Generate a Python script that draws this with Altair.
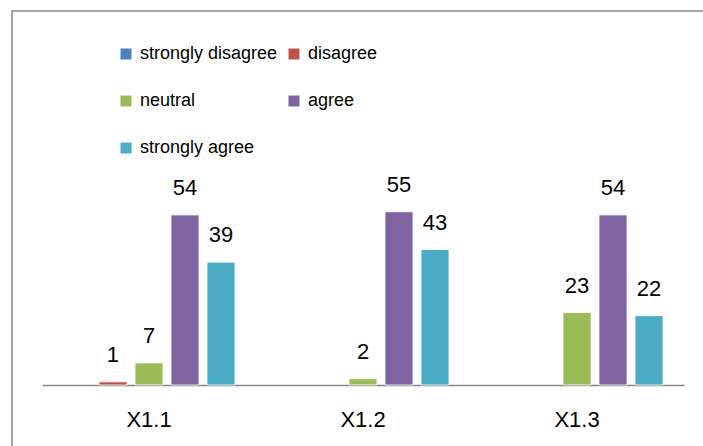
import altair as alt
import pandas as pd

categories = ["X1.1", "X1.2", "X1.3"]
series = ["strongly disagree", "disagree", "neutral", "agree", "strongly agree"]
colors = ["#4F81BD", "#C0504D", "#9BBB59", "#8064A2", "#4BACC6"]
strongly_disagree = [0, 0, 0]
disagree = [1, 0, 0]
neutral = [7, 2, 23]
agree = [54, 55, 54]
strongly_agree = [39, 43, 22]

vals = [strongly_disagree, disagree, neutral, agree, strongly_agree]
rows = []
for s, v in zip(series, vals):
    for c, x in zip(categories, v):
        rows.append({"cat": c, "series": s, "value": x})
df = pd.DataFrame(rows)

FONT = "Liberation Sans"

x = alt.X("cat:N", sort=categories, title=None,
          scale=alt.Scale(domain=categories, paddingInner=0, paddingOuter=0),
          axis=alt.Axis(labelAngle=0, labelFontSize=22, labelFont=FONT, labelColor="#000000",
                        ticks=False, domainColor="#898989", domainWidth=1.5, labelPadding=24))
xo = alt.XOffset("series:N",
                 scale=alt.Scale(domain=series, paddingInner=0.222, paddingOuter=0.583))
y = alt.Y("value:Q", scale=alt.Scale(domain=[0, 60]), axis=None)

bars = alt.Chart(df).transform_filter("datum.value > 0").mark_bar(
    stroke="#ffffff", strokeWidth=0.8
).encode(
    x=x, xOffset=xo, y=y,
    color=alt.Color("series:N",
                    scale=alt.Scale(domain=series, range=colors),
                    legend=alt.Legend(title=None, orient="none", legendX=75, legendY=-151,
                                      direction="horizontal",
                                      columns=2, columnPadding=7, rowPadding=29,
                                      symbolType="square", symbolSize=121, symbolStrokeWidth=0,
                                      labelFontSize=18, labelFont=FONT, labelColor="#000000",
                                      labelOffset=5, labelLimit=300)),
)

labels = alt.Chart(df).transform_filter("datum.value > 0").mark_text(
    fontSize=22, font=FONT, color="#000000", baseline="middle", dy=-27
).encode(x=x, xOffset=xo, y=y, text=alt.Text("value:Q"))

border = alt.Chart(pd.DataFrame({"a": [0]})).mark_rect(
    fill=None, stroke="#898989", strokeWidth=1.5
).encode(x=alt.value(-30), x2=alt.value(720), y=alt.value(-185), y2=alt.value(320))

chart = alt.layer(border, bars, labels).properties(
    width=642, height=189,
    padding={"left": 42, "top": 196, "right": 19, "bottom": 61},
    autosize=alt.AutoSizeParams(type="none"),
    background="#ffffff",
).configure_view(strokeWidth=0, stroke="transparent")

chart.save("out.html", embed_options={"renderer": "svg", "actions": False})
